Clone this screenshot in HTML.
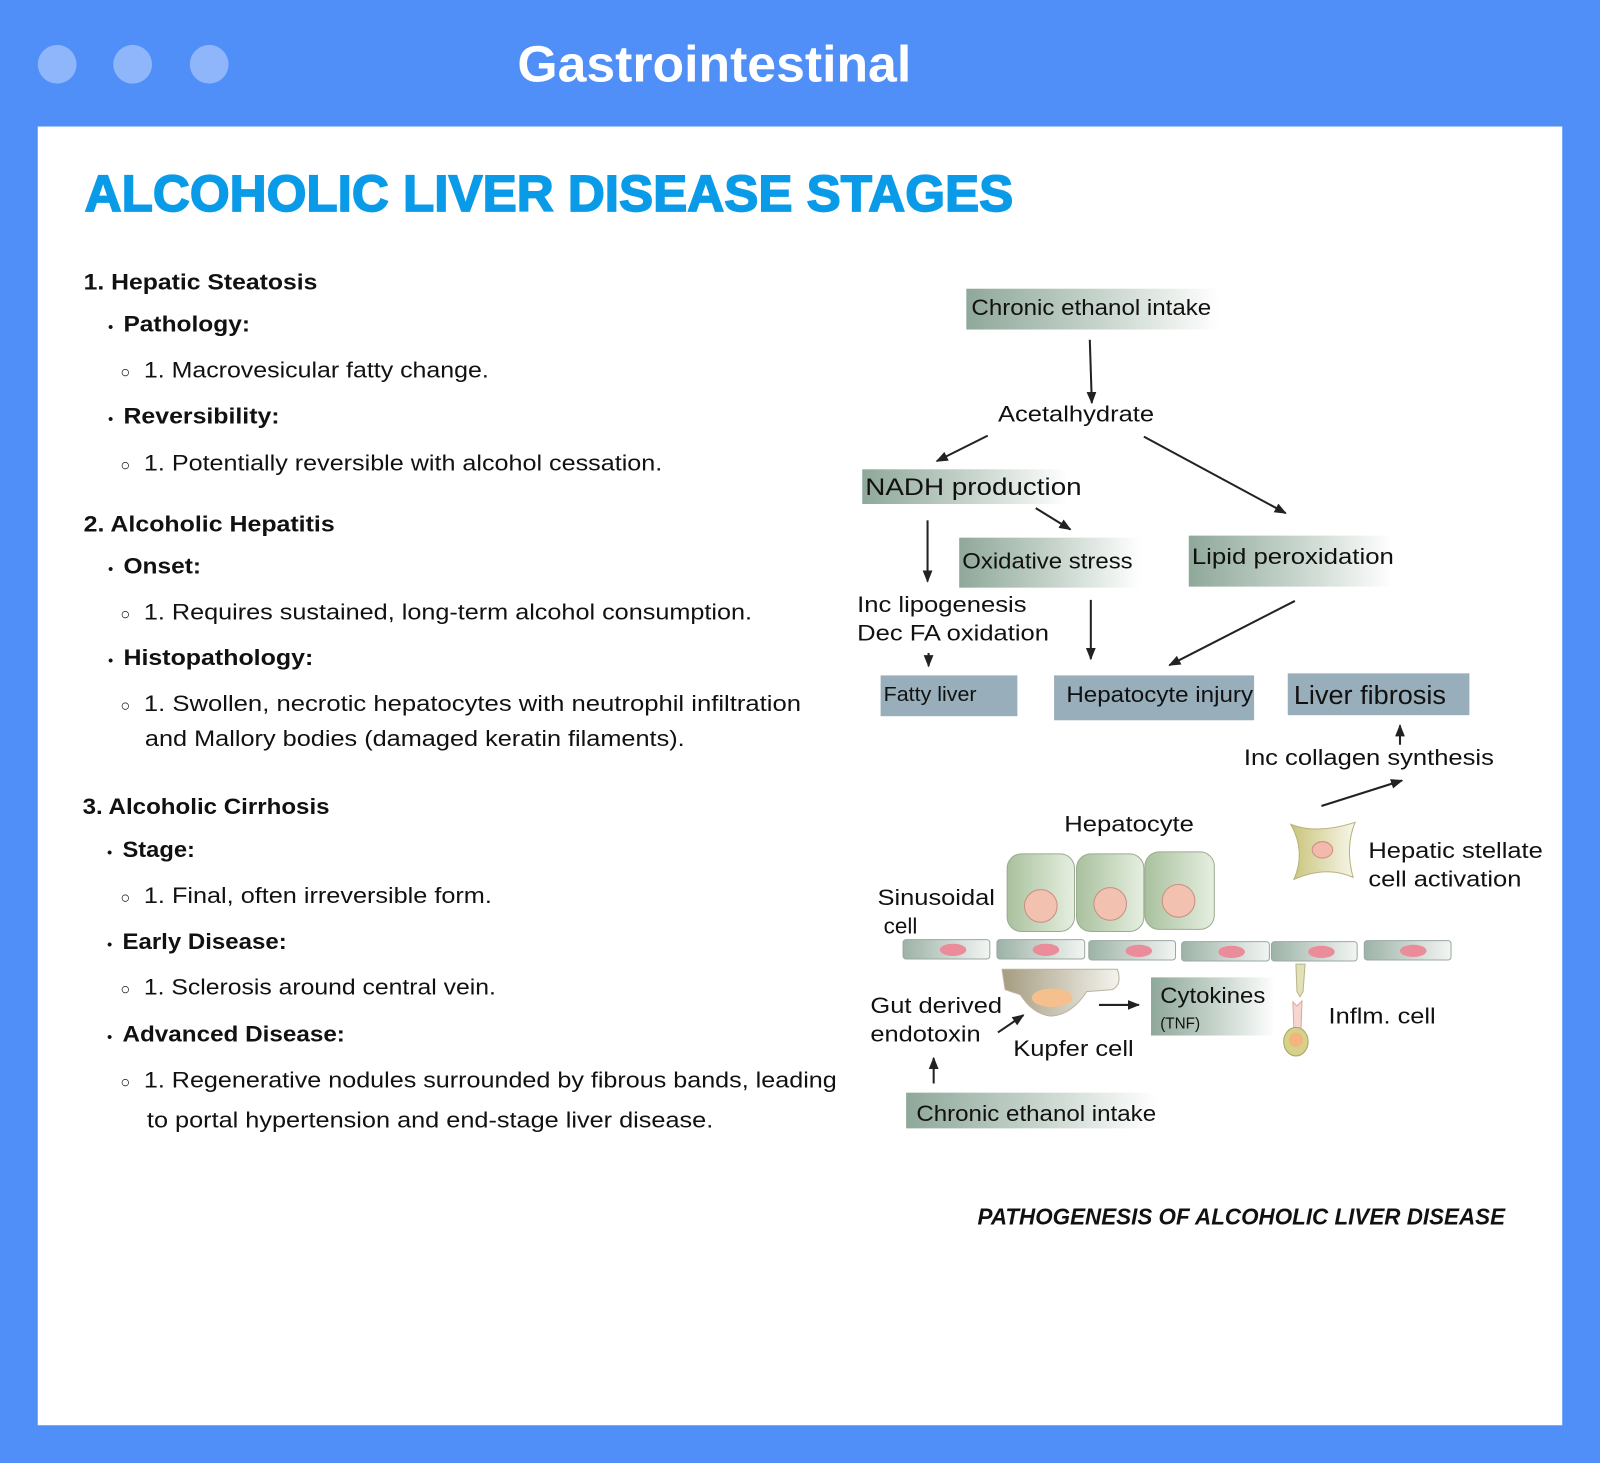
<!DOCTYPE html>
<html><head><meta charset="utf-8"><style>
html,body{margin:0;padding:0;background:#4f8ff7;}
svg{display:block;}
text{font-family:"Liberation Sans",sans-serif;}
</style></head><body>
<svg width="1600" height="1463" viewBox="0 0 1568 1434" preserveAspectRatio="none" xmlns="http://www.w3.org/2000/svg">
<defs>
<linearGradient id="g1" x1="0" x2="1" y1="0" y2="0"><stop offset="0" stop-color="#8fa89a"/><stop offset="0.55" stop-color="#c9d6ce"/><stop offset="1" stop-color="#ffffff"/></linearGradient>
<linearGradient id="gh" x1="0" x2="1" y1="0" y2="0"><stop offset="0" stop-color="#a9c19e"/><stop offset="1" stop-color="#e6efe0"/></linearGradient>
<linearGradient id="gs" x1="0" x2="1" y1="0" y2="0"><stop offset="0" stop-color="#9db3a7"/><stop offset="1" stop-color="#f2f5f3"/></linearGradient>
<linearGradient id="gk" x1="0" x2="1" y1="0" y2="0"><stop offset="0" stop-color="#a59c80"/><stop offset="1" stop-color="#f4f3ee"/></linearGradient>
<linearGradient id="gst" x1="0" x2="1" y1="0" y2="0"><stop offset="0" stop-color="#c9c47a"/><stop offset="1" stop-color="#f7f6ea"/></linearGradient>
<marker id="ah" viewBox="0 0 10 10" refX="9" refY="5" markerWidth="6" markerHeight="6" orient="auto"><path d="M0,1 L10,5 L0,9 z" fill="#222"/></marker>
</defs>
<rect x="0" y="0" width="1568" height="1434" fill="#4f8ff7"/>
<circle cx="56" cy="63" r="19" fill="#8fb6fa"/>
<circle cx="130" cy="63" r="19" fill="#8fb6fa"/>
<circle cx="205" cy="63" r="19" fill="#8fb6fa"/>
<text x="700" y="80" text-anchor="middle" font-size="50" font-weight="bold" fill="#fff" textLength="386" lengthAdjust="spacingAndGlyphs">Gastrointestinal</text>
<rect x="37" y="124" width="1494" height="1273" fill="#fff"/>
<text x="83" y="207" font-size="50" font-weight="bold" fill="#0a9be8" stroke="#0a9be8" stroke-width="1.6" textLength="910" lengthAdjust="spacingAndGlyphs">ALCOHOLIC LIVER DISEASE STAGES</text>

<g font-size="22" fill="#111">
<text x="82" y="284" font-weight="bold" textLength="229" lengthAdjust="spacingAndGlyphs">1. Hepatic Steatosis</text>
<text x="106" y="325" font-weight="bold" font-size="14">•</text><text x="121" y="325" font-weight="bold" textLength="124" lengthAdjust="spacingAndGlyphs">Pathology:</text>
<text x="118" y="370" font-size="16">○</text><text x="141" y="370" textLength="338" lengthAdjust="spacingAndGlyphs">1. Macrovesicular fatty change.</text>
<text x="106" y="415" font-weight="bold" font-size="14">•</text><text x="121" y="415" font-weight="bold" textLength="153" lengthAdjust="spacingAndGlyphs">Reversibility:</text>
<text x="118" y="461" font-size="16">○</text><text x="141" y="461" textLength="508" lengthAdjust="spacingAndGlyphs">1. Potentially reversible with alcohol cessation.</text>

<text x="82" y="521" font-weight="bold" textLength="246" lengthAdjust="spacingAndGlyphs">2. Alcoholic Hepatitis</text>
<text x="106" y="562" font-weight="bold" font-size="14">•</text><text x="121" y="562" font-weight="bold" textLength="76" lengthAdjust="spacingAndGlyphs">Onset:</text>
<text x="118" y="607" font-size="16">○</text><text x="141" y="607" textLength="596" lengthAdjust="spacingAndGlyphs">1. Requires sustained, long-term alcohol consumption.</text>
<text x="106" y="652" font-weight="bold" font-size="14">•</text><text x="121" y="652" font-weight="bold" textLength="186" lengthAdjust="spacingAndGlyphs">Histopathology:</text>
<text x="118" y="697" font-size="16">○</text><text x="141" y="697" textLength="644" lengthAdjust="spacingAndGlyphs">1. Swollen, necrotic hepatocytes with neutrophil infiltration</text>
<text x="142" y="731" textLength="529" lengthAdjust="spacingAndGlyphs">and Mallory bodies (damaged keratin filaments).</text>

<text x="81" y="798" font-weight="bold" textLength="242" lengthAdjust="spacingAndGlyphs">3. Alcoholic Cirrhosis</text>
<text x="105" y="840" font-weight="bold" font-size="14">•</text><text x="120" y="840" font-weight="bold" textLength="71" lengthAdjust="spacingAndGlyphs">Stage:</text>
<text x="118" y="885" font-size="16">○</text><text x="141" y="885" textLength="341" lengthAdjust="spacingAndGlyphs">1. Final, often irreversible form.</text>
<text x="105" y="930" font-weight="bold" font-size="14">•</text><text x="120" y="930" font-weight="bold" textLength="161" lengthAdjust="spacingAndGlyphs">Early Disease:</text>
<text x="118" y="975" font-size="16">○</text><text x="141" y="975" textLength="345" lengthAdjust="spacingAndGlyphs">1. Sclerosis around central vein.</text>
<text x="105" y="1021" font-weight="bold" font-size="14">•</text><text x="120" y="1021" font-weight="bold" textLength="218" lengthAdjust="spacingAndGlyphs">Advanced Disease:</text>
<text x="118" y="1066" font-size="16">○</text><text x="141" y="1066" textLength="679" lengthAdjust="spacingAndGlyphs">1. Regenerative nodules surrounded by fibrous bands, leading</text>
<text x="144" y="1105" textLength="555" lengthAdjust="spacingAndGlyphs">to portal hypertension and end-stage liver disease.</text>
</g>

<!-- diagram -->
<g font-size="22" fill="#111">
<rect x="947" y="283" width="248" height="40" fill="url(#g1)"/>
<text x="952" y="309" textLength="235" lengthAdjust="spacingAndGlyphs">Chronic ethanol intake</text>
<text x="978" y="413" textLength="153" lengthAdjust="spacingAndGlyphs">Acetalhydrate</text>
<rect x="845" y="460" width="202" height="34" fill="url(#g1)"/>
<text x="848" y="485" font-size="24" textLength="212" lengthAdjust="spacingAndGlyphs">NADH production</text>
<rect x="940" y="527" width="178" height="49" fill="url(#g1)"/>
<text x="943" y="557" textLength="167" lengthAdjust="spacingAndGlyphs">Oxidative stress</text>
<rect x="1165" y="525" width="200" height="50" fill="url(#g1)"/>
<text x="1168" y="553" textLength="198" lengthAdjust="spacingAndGlyphs">Lipid peroxidation</text>
<text x="840" y="600" textLength="166" lengthAdjust="spacingAndGlyphs">Inc lipogenesis</text>
<text x="840" y="628" textLength="188" lengthAdjust="spacingAndGlyphs">Dec FA oxidation</text>
<rect x="863" y="662" width="134" height="40" fill="#98aebb"/>
<text x="866" y="687" font-size="20" textLength="91" lengthAdjust="spacingAndGlyphs">Fatty liver</text>
<rect x="1033" y="662" width="196" height="44" fill="#98aebb"/>
<text x="1045" y="688" textLength="183" lengthAdjust="spacingAndGlyphs">Hepatocyte injury</text>
<rect x="1262" y="660" width="178" height="41" fill="#98aebb"/>
<text x="1268" y="690" font-size="25" textLength="149" lengthAdjust="spacingAndGlyphs">Liver fibrosis</text>
<text x="1219" y="750" textLength="245" lengthAdjust="spacingAndGlyphs">Inc collagen synthesis</text>
<text x="1043" y="815" textLength="127" lengthAdjust="spacingAndGlyphs">Hepatocyte</text>
<text x="860" y="887" textLength="115" lengthAdjust="spacingAndGlyphs">Sinusoidal</text>
<text x="866" y="915">cell</text>
<text x="1341" y="841" textLength="171" lengthAdjust="spacingAndGlyphs">Hepatic stellate</text>
<text x="1341" y="869" textLength="150" lengthAdjust="spacingAndGlyphs">cell activation</text>
<text x="853" y="993" textLength="129" lengthAdjust="spacingAndGlyphs">Gut derived</text>
<text x="853" y="1021" textLength="108" lengthAdjust="spacingAndGlyphs">endotoxin</text>
<text x="993" y="1035" textLength="118" lengthAdjust="spacingAndGlyphs">Kupfer cell</text>
<rect x="1128" y="958" width="122" height="57" fill="url(#g1)"/>
<text x="1137" y="983" textLength="103" lengthAdjust="spacingAndGlyphs">Cytokines</text>
<text x="1137" y="1008" font-size="15">(TNF)</text>
<text x="1302" y="1003" textLength="105" lengthAdjust="spacingAndGlyphs">Inflm. cell</text>
<rect x="888" y="1071" width="246" height="35" fill="url(#g1)"/>
<text x="898" y="1099" textLength="235" lengthAdjust="spacingAndGlyphs">Chronic ethanol intake</text>
</g>

<g stroke="#222" stroke-width="2" fill="none" marker-end="url(#ah)">
<line x1="1068" y1="333" x2="1070" y2="395"/>
<line x1="968" y1="427" x2="918" y2="452"/>
<line x1="1121" y1="428" x2="1260" y2="503"/>
<line x1="909" y1="510" x2="909" y2="570"/>
<line x1="1015" y1="498" x2="1049" y2="519"/>
<line x1="910" y1="640" x2="910" y2="653"/>
<line x1="1069" y1="588" x2="1069" y2="646"/>
<line x1="1269" y1="589" x2="1146" y2="652"/>
<line x1="1372" y1="730" x2="1372" y2="711"/>
<line x1="1295" y1="790" x2="1374" y2="765"/>
<line x1="978" y1="1012" x2="1003" y2="995"/>
<line x1="1077" y1="985" x2="1116" y2="985"/>
<line x1="915" y1="1062" x2="915" y2="1037"/>
</g>

<g stroke="#9aab90" stroke-width="1">
<rect x="987" y="837" width="66" height="76" rx="14" fill="url(#gh)"/>
<rect x="1055" y="837" width="66" height="76" rx="14" fill="url(#gh)"/>
<rect x="1122" y="835" width="68" height="76" rx="14" fill="url(#gh)"/>
</g>
<g fill="#f3c1b0" stroke="#c98f80">
<circle cx="1020" cy="888" r="16"/><circle cx="1088" cy="886" r="16"/><circle cx="1155" cy="883" r="16"/>
</g>
<g stroke="#9aa8a0" stroke-width="1" fill="url(#gs)">
<rect x="885" y="921" width="85" height="19" rx="3"/>
<rect x="977" y="921" width="86" height="19" rx="3"/>
<rect x="1067" y="922" width="85" height="19" rx="3"/>
<rect x="1158" y="923" width="86" height="19" rx="3"/>
<rect x="1246" y="923" width="84" height="19" rx="3"/>
<rect x="1337" y="922" width="85" height="19" rx="3"/>
</g>
<g fill="#ea8c99">
<ellipse cx="934" cy="931" rx="13" ry="6"/><ellipse cx="1025" cy="931" rx="13" ry="6"/><ellipse cx="1116" cy="932" rx="13" ry="6"/>
<ellipse cx="1207" cy="933" rx="13" ry="6"/><ellipse cx="1295" cy="933" rx="13" ry="6"/><ellipse cx="1385" cy="932" rx="13" ry="6"/>
</g>
<path d="M982,950 L1095,950 Q1100,965 1090,970 L1065,972 Q1050,995 1030,996 Q1012,994 1000,975 L985,970 Z" fill="url(#gk)" stroke="#bbb3a0"/>
<ellipse cx="1031" cy="978" rx="20" ry="9" fill="#f5c08e"/>
<path d="M1265,808 Q1290,818 1328,806 Q1318,830 1326,860 Q1300,848 1268,862 Q1280,835 1265,808 Z" fill="url(#gst)" stroke="#b8b27a"/>
<ellipse cx="1296" cy="833" rx="10" ry="8" fill="#f3b9ad" stroke="#c98f80"/>
<path d="M1270,945 L1279,945 L1277,972 L1274,977 L1271,972 Z" fill="#e2e0b8" stroke="#b9b58a"/>
<path d="M1267,982 L1271,986 L1276,981 L1275,1008 L1268,1008 Z" fill="#f6d6cf" stroke="#d8aaa0"/>
<ellipse cx="1270" cy="1021" rx="12" ry="14" fill="#d5d18a" stroke="#a9a560"/>
<circle cx="1270" cy="1019" r="7" fill="#f4b47e"/>

<text x="958" y="1200" font-size="23" font-weight="bold" font-style="italic" fill="#111" textLength="517" lengthAdjust="spacingAndGlyphs">PATHOGENESIS OF ALCOHOLIC LIVER DISEASE</text>
</svg>
</body></html>
